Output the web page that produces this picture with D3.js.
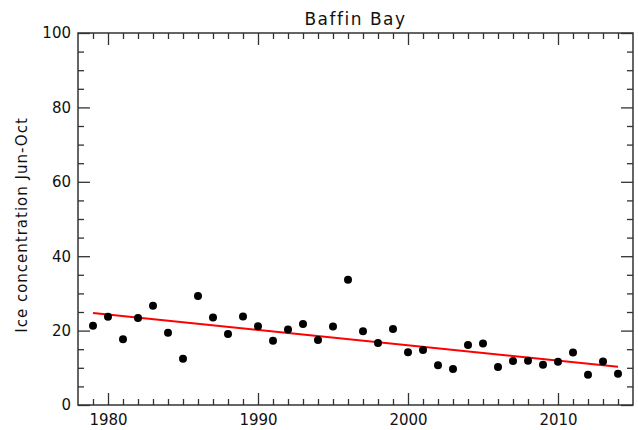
<!DOCTYPE html>
<html>
<head>
<meta charset="utf-8">
<script src="https://cdn.jsdelivr.net/npm/d3@7"></script>
<style>
body { margin: 0; background: #fff; }
svg text { font-family: "DejaVu Sans", sans-serif; fill: #111; }
</style>
</head>
<body>
<svg id="chart" width="638" height="430"></svg>
<script>
// yearly ice concentration, Baffin Bay
var years = [1979,1980,1981,1982,1983,1984,1985,1986,1987,1988,1989,1990,1991,1992,1993,1994,1995,1996,
	1997,1998,1999,2000,2001,2002,2003,2004,2005,2006,2007,2008,2009,2010,2011,2012,2013,2014];
var iceConc = [21.3,23.7,17.7,23.4,26.7,19.4,12.4,29.3,23.5,19.1,23.8,21.2,17.3,20.3,21.8,17.5,21.1,33.7,
	19.8,16.7,20.4,14.2,14.8,10.7,9.7,16.1,16.5,10.2,11.8,11.9,10.8,11.6,14.1,8.1,11.7,8.4];
var trendYears = [1979, 2014];
var trendVals = [24.7, 10.3];
var xTicks = [1980, 1990, 2000, 2010];
var yTicks = [0, 20, 40, 60, 80, 100];

var svg = d3.select("#chart");
var pL = 78, pR = 633, pT = 33, pB = 405;

var x = d3.scaleLinear().domain([1978, 2015]).range([pL, pR]);
var y = d3.scaleLinear().domain([0, 100]).range([pB, pT]);

var minorX = d3.range(1979, 2015, 1).filter(function(d){ return xTicks.indexOf(d) < 0; });
var minorY = d3.range(5, 100, 5).filter(function(d){ return yTicks.indexOf(d) < 0; });

function styleAxis(g){
	g.select(".domain").remove();
	g.selectAll("line").attr("stroke", "#333").attr("stroke-width", 1.3);
	g.selectAll("text").attr("font-size", "15px").attr("fill", "#111");
}

// bottom
svg.append("g").attr("transform", "translate(0," + pB + ")")
	.call(d3.axisBottom(x).tickValues(xTicks).tickFormat(d3.format("d")).tickSize(-12).tickPadding(9))
	.call(styleAxis);
svg.append("g").attr("transform", "translate(0," + pB + ")")
	.call(d3.axisBottom(x).tickValues(minorX).tickFormat("").tickSize(-6))
	.call(styleAxis);
// top
svg.append("g").attr("transform", "translate(0," + pT + ")")
	.call(d3.axisTop(x).tickValues(xTicks).tickFormat("").tickSize(-12))
	.call(styleAxis);
svg.append("g").attr("transform", "translate(0," + pT + ")")
	.call(d3.axisTop(x).tickValues(minorX).tickFormat("").tickSize(-6))
	.call(styleAxis);
// left
svg.append("g").attr("transform", "translate(" + pL + ",0)")
	.call(d3.axisLeft(y).tickValues(yTicks).tickSize(-12).tickPadding(7))
	.call(styleAxis);
svg.append("g").attr("transform", "translate(" + pL + ",0)")
	.call(d3.axisLeft(y).tickValues(minorY).tickFormat("").tickSize(-6))
	.call(styleAxis);
// right
svg.append("g").attr("transform", "translate(" + pR + ",0)")
	.call(d3.axisRight(y).tickValues(yTicks).tickFormat("").tickSize(-12))
	.call(styleAxis);
svg.append("g").attr("transform", "translate(" + pR + ",0)")
	.call(d3.axisRight(y).tickValues(minorY).tickFormat("").tickSize(-6))
	.call(styleAxis);

svg.append("rect").attr("x", pL).attr("y", pT)
	.attr("width", pR - pL).attr("height", pB - pT)
	.attr("fill", "none").attr("stroke", "#333").attr("stroke-width", 1.5);

// trend line
svg.append("path")
	.datum(trendYears.map(function(d, i){ return [d, trendVals[i]]; }))
	.attr("fill", "none").attr("stroke", "#ff0000").attr("stroke-width", 2)
	.attr("d", d3.line().x(function(d){ return x(d[0]); }).y(function(d){ return y(d[1]); }));

svg.selectAll("circle.pt").data(years).enter().append("circle")
	.attr("class", "pt")
	.attr("cx", function(d){ return x(d); })
	.attr("cy", function(d, i){ return y(iceConc[i]); })
	.attr("r", 4)
	.attr("fill", "#000");

svg.append("text").attr("x", (pL + pR) / 2).attr("y", 25)
	.attr("text-anchor", "middle").attr("font-size", "17px")
	.attr("letter-spacing", "1.5px").text("Baffin Bay");

svg.append("text")
	.attr("transform", "translate(27,225) rotate(-90)")
	.attr("text-anchor", "middle").attr("font-size", "15px")
	.attr("letter-spacing", "1px")
	.text("Ice concentration Jun-Oct");
</script>
</body>
</html>
